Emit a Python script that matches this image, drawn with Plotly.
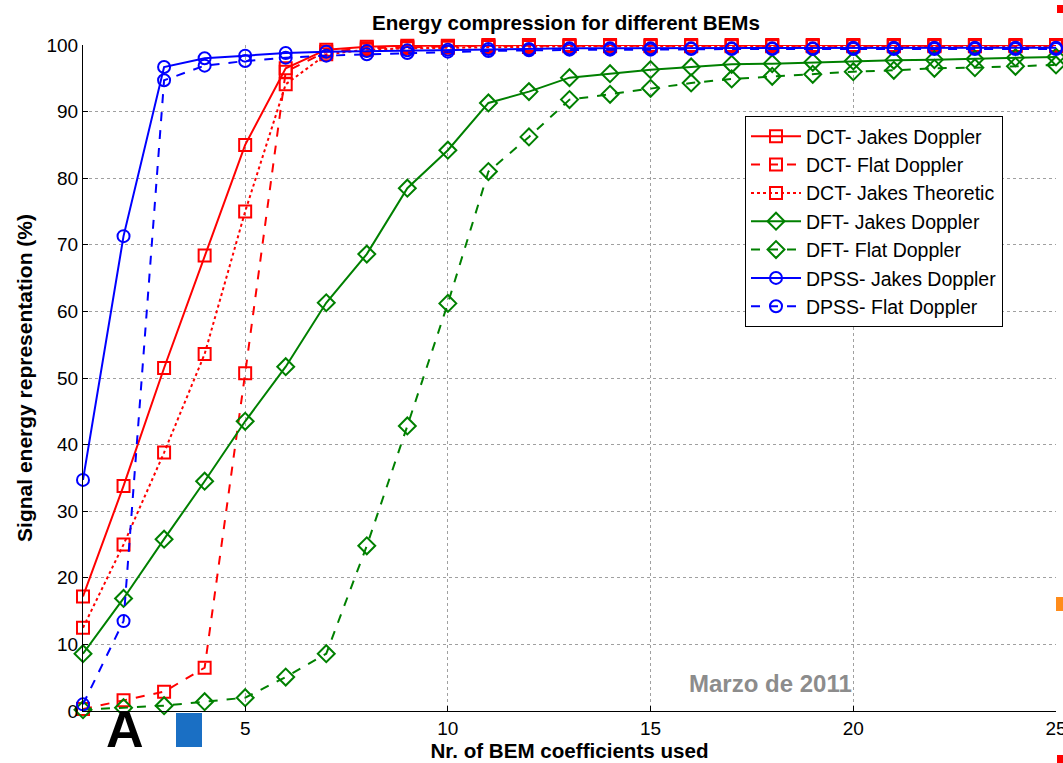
import plotly.graph_objects as go

n_coeffs = list(range(1, 26))

dct_jakes = [17.2, 33.8, 51.5, 68.4, 85.0, 96.5, 99.3, 99.75, 99.9, 99.9, 100, 100, 100, 100, 100, 100, 100, 100, 100, 100, 100, 100, 100, 100, 100]
dct_flat = [0.3, 1.6, 2.9, 6.5, 50.7, 96.0, 99.0, 99.5, 99.7, 99.8, 99.9, 99.9, 99.9, 99.9, 99.9, 99.9, 99.9, 99.9, 99.9, 99.9, 99.9, 99.9, 99.9, 99.9, 99.9]
dct_theor = [12.5, 25.0, 38.8, 53.6, 75.0, 94.1, 98.6, 99.3, 99.5, 99.6, 99.7, 99.7, 99.8, 99.8, 99.8, 99.8, 99.8, 99.8, 99.8, 99.8, 99.8, 99.8, 99.8, 99.8, 99.8]
dft_jakes = [8.6, 16.9, 25.8, 34.5, 43.5, 51.7, 61.3, 68.6, 78.5, 84.2, 91.3, 93.0, 95.1, 95.7, 96.3, 96.7, 97.1, 97.2, 97.4, 97.6, 97.7, 97.8, 97.9, 98.1, 98.2]
dft_flat = [0.2, 0.5, 0.8, 1.4, 2.0, 5.1, 8.6, 24.8, 42.8, 61.2, 81.0, 86.2, 91.8, 92.6, 93.5, 94.3, 94.9, 95.3, 95.6, 96.0, 96.2, 96.5, 96.6, 96.8, 97.0]
dpss_jakes = [34.7, 71.3, 96.7, 98.0, 98.4, 98.8, 99.0, 99.1, 99.2, 99.3, 99.4, 99.4, 99.5, 99.5, 99.5, 99.5, 99.5, 99.5, 99.5, 99.6, 99.6, 99.6, 99.6, 99.6, 99.6]
dpss_flat = [1.0, 13.5, 94.7, 96.9, 97.6, 98.1, 98.4, 98.6, 98.8, 99.0, 99.1, 99.2, 99.3, 99.3, 99.3, 99.4, 99.4, 99.4, 99.4, 99.4, 99.4, 99.4, 99.4, 99.4, 99.4]

series_names = ["DCT- Jakes Doppler", "DCT- Flat Doppler", "DCT- Jakes Theoretic",
                "DFT- Jakes Doppler", "DFT- Flat Doppler",
                "DPSS- Jakes Doppler", "DPSS- Flat Doppler"]
series_values = [dct_jakes, dct_flat, dct_theor, dft_jakes, dft_flat, dpss_jakes, dpss_flat]

x_ticks = [5, 10, 15, 20, 25]
y_ticks = [0, 10, 20, 30, 40, 50, 60, 70, 80, 90, 100]

styles = [
    ("#ff0000", "solid", "square-open", 12),
    ("#ff0000", "dash", "square-open", 12),
    ("#ff0000", "dot", "square-open", 12),
    ("#008000", "solid", "diamond-open", 13),
    ("#008000", "dash", "diamond-open", 13),
    ("#0000ff", "solid", "circle-open", 12),
    ("#0000ff", "dash", "circle-open", 12),
]

FONT = "Liberation Sans, Arial, sans-serif"

fig = go.Figure()
for name, vals, (col, dash, sym, ms) in zip(series_names, series_values, styles):
    fig.add_trace(go.Scatter(
        x=n_coeffs, y=vals, name=name, mode="lines+markers",
        line=dict(color=col, width=2, dash=dash),
        marker=dict(symbol=sym, size=ms, color=col, line=dict(width=2, color=col)),
        cliponaxis=False,
    ))

L, R, T, B = 83, 1056, 45, 711
W, H = 1063, 763


def px(xp):
    return (xp - L) / (R - L)


def py(yp):
    return (B - yp) / (B - T)


fig.update_layout(
    width=W, height=H,
    margin=dict(l=L, r=W - R, t=T, b=H - B, pad=0, autoexpand=False),
    paper_bgcolor="white", plot_bgcolor="white",
    font=dict(family=FONT, color="black", size=19),
    title=dict(text="<b>Energy compression for different BEMs</b>",
               x=px(566), xref="paper", xanchor="center",
               y=1 - 23 / H, yanchor="middle", yref="container",
               font=dict(size=20.6, family=FONT)),
    showlegend=True,
    legend=dict(x=px(745), y=py(116), xanchor="left", yanchor="top",
                bgcolor="white", bordercolor="black", borderwidth=1,
                font=dict(size=19.5, family=FONT), tracegroupgap=0,
                itemwidth=50),
    xaxis=dict(range=[1, 25], tickvals=x_ticks, ticks="inside", ticklen=5,
               tickcolor="black", showgrid=True, gridcolor="#a0a0a0",
               griddash="dot", gridwidth=1, showline=True, linecolor="black",
               linewidth=1, mirror=False, zeroline=False, automargin=False,
               ticklabeloverflow="allow",
               title=dict(text="<b>Nr. of BEM coefficients used</b>",
                          font=dict(size=20.6, family=FONT), standoff=2),
               tickfont=dict(size=19, family=FONT)),
    yaxis=dict(range=[0, 100], tickvals=y_ticks, ticks="inside", ticklen=5,
               tickcolor="black", showgrid=True, gridcolor="#a0a0a0",
               griddash="dot", gridwidth=1, showline=True, linecolor="black",
               linewidth=1, zeroline=False, ticklabeloverflow="allow",
               automargin=False,
               title=dict(text="<b>Signal energy representation (%)</b>",
                          font=dict(size=21, family=FONT), standoff=8),
               tickfont=dict(size=19, family=FONT)),
)

# watermark text
fig.add_annotation(text="<b>Marzo de 2011</b>", x=px(770), y=py(683),
                   xref="paper", yref="paper", showarrow=False,
                   xanchor="center", yanchor="middle",
                   font=dict(size=24, color="#8c8c8c", family=FONT))

# logo fragments under the axis
fig.add_annotation(text="<b>A</b>", x=px(125), y=py(750), xref="paper", yref="paper",
                   showarrow=False, font=dict(size=52, color="black", family=FONT),
                   xanchor="center", yanchor="bottom", yshift=-10)
fig.add_shape(type="rect", xref="paper", yref="paper",
              x0=px(176), x1=px(202), y0=py(713), y1=py(747),
              fillcolor="#1a6fc4", line=dict(width=0), layer="above")
# edge marks
fig.add_shape(type="rect", xref="paper", yref="paper",
              x0=px(1056), x1=px(1063), y0=py(597), y1=py(611),
              fillcolor="#ff8c1a", line=dict(width=0))
fig.add_shape(type="rect", xref="paper", yref="paper",
              x0=px(1057), x1=px(1063), y0=py(5), y1=py(13),
              fillcolor="#ff0000", line=dict(width=0))
fig.add_shape(type="rect", xref="paper", yref="paper",
              x0=px(1057), x1=px(1063), y0=py(755), y1=py(763),
              fillcolor="#ff0000", line=dict(width=0))

fig.write_html("out.html", config={"displayModeBar": False},
               post_script="document.body.style.margin='0px';document.body.style.overflow='hidden';")
